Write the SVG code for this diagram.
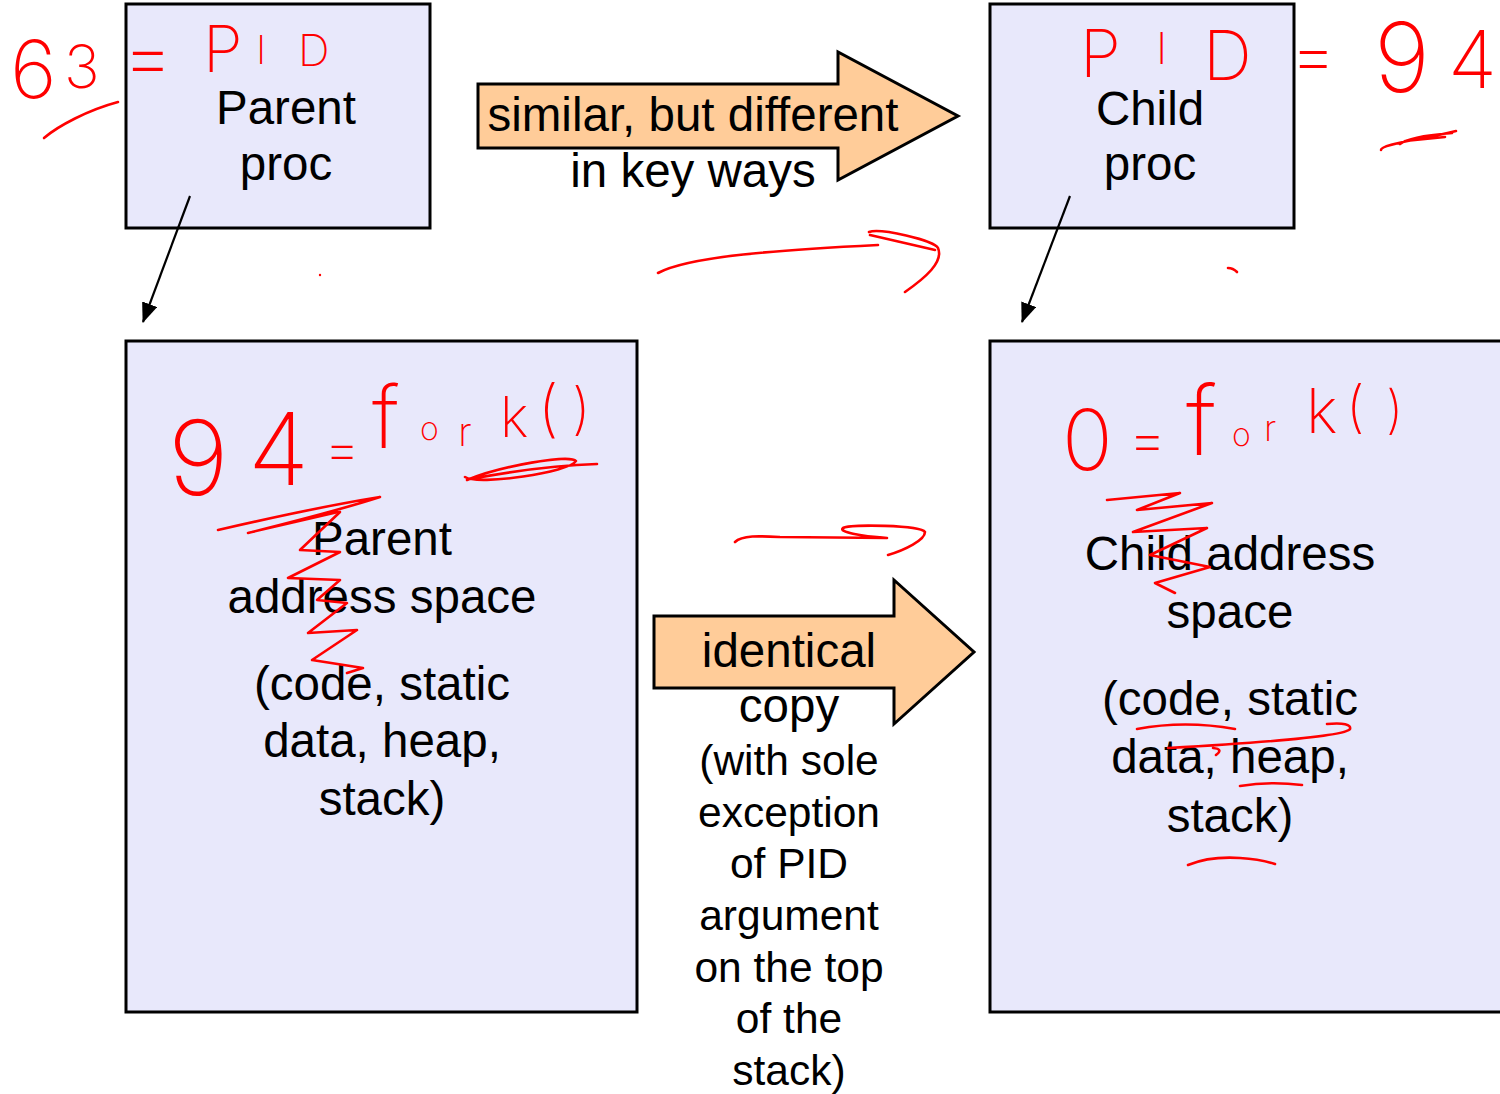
<svg xmlns="http://www.w3.org/2000/svg" width="1500" height="1094" viewBox="0 0 1500 1094">
  <style>
    .box { fill: #E8E8FB; stroke: #000; stroke-width: 3; }
    .big { fill: #FFCC99; stroke: #000; stroke-width: 3; stroke-linejoin: miter; }
    .lbl { font-family: "Liberation Sans", Arial, sans-serif; font-size: 47.5px; fill: #000; text-anchor: middle; }
    .sm { font-size: 42.5px; }
    .ink { fill: none; stroke: #FF0000; stroke-width: 2.6; stroke-linecap: round; stroke-linejoin: round; }
    .hand { font-family: Inter, "DejaVu Sans", sans-serif; font-weight: 200; fill: #FF0000; }
    .conn { stroke: #000; stroke-width: 2.2; fill: none; }
  </style>
  <defs>
    <marker id="head" viewBox="0 0 20 16" refX="19" refY="8" markerWidth="20" markerHeight="16" markerUnits="userSpaceOnUse" orient="auto">
      <path d="M0,0 L20,8 L0,16 z" fill="#000"/>
    </marker>
  </defs>

  <rect width="1500" height="1094" fill="#fff"/>

  <!-- process boxes -->
  <g id="parent-proc">
    <rect class="box" x="126" y="4" width="304" height="224"/>
    <text class="lbl" x="286" y="124">Parent</text>
    <text class="lbl" x="286" y="180">proc</text>
  </g>
  <g id="child-proc">
    <rect class="box" x="990" y="4" width="304" height="224"/>
    <text class="lbl" x="1150" y="125">Child</text>
    <text class="lbl" x="1150" y="180">proc</text>
  </g>

  <!-- address space boxes -->
  <g id="parent-space">
    <rect class="box" x="126" y="341" width="511" height="671"/>
    <text class="lbl" x="382" y="555">Parent</text>
    <text class="lbl" x="382" y="613">address space</text>
    <text class="lbl" x="382" y="700">(code, static</text>
    <text class="lbl" x="382" y="757">data, heap,</text>
    <text class="lbl" x="382" y="815">stack)</text>
  </g>
  <g id="child-space">
    <rect class="box" x="990" y="341" width="530" height="671"/>
    <text class="lbl" x="1230" y="570">Child address</text>
    <text class="lbl" x="1230" y="628">space</text>
    <text class="lbl" x="1230" y="715">(code, static</text>
    <text class="lbl" x="1230" y="773">data, heap,</text>
    <text class="lbl" x="1230" y="832">stack)</text>
  </g>

  <!-- block arrows -->
  <g id="similar-arrow">
    <path class="big" d="M478,84 L838,84 L838,52 L958,116 L838,180 L838,148 L478,148 Z"/>
    <text class="lbl" x="693" y="131">similar, but different</text>
    <text class="lbl" x="693" y="187">in key ways</text>
  </g>
  <g id="identical-arrow">
    <path class="big" d="M654,616 L894,616 L894,580 L974,652 L894,724 L894,688 L654,688 Z"/>
    <text class="lbl" x="789" y="667">identical</text>
    <text class="lbl" x="789" y="722">copy</text>
    <text class="lbl sm" x="789" y="775">(with sole</text>
    <text class="lbl sm" x="789" y="827">exception</text>
    <text class="lbl sm" x="789" y="878">of PID</text>
    <text class="lbl sm" x="789" y="930">argument</text>
    <text class="lbl sm" x="789" y="982">on the top</text>
    <text class="lbl sm" x="789" y="1033">of the</text>
    <text class="lbl sm" x="789" y="1085">stack)</text>
  </g>

  <!-- connectors -->
  <g id="connectors">
    <line class="conn" x1="190" y1="196" x2="143" y2="322" marker-end="url(#head)"/>
    <line class="conn" x1="1070" y1="196" x2="1022" y2="322" marker-end="url(#head)"/>
  </g>

  <!-- red pen notes -->
  <g id="pen-notes">
    <text class="hand">
      <tspan x="10" y="98" font-size="80">6</tspan>
      <tspan x="64" y="88" font-size="60">3</tspan>
      <tspan x="122" y="84" font-size="80">=</tspan>
      <tspan x="203" y="72" font-size="64">P</tspan>
      <tspan x="256" y="64" font-size="40">I</tspan>
      <tspan x="298" y="66" font-size="44">D</tspan>
    </text>
    <path class="ink" d="M44,138 C58,126 88,110 118,102"/>

    <text class="hand">
      <tspan x="1080" y="77" font-size="66">P</tspan>
      <tspan x="1156" y="64" font-size="44">I</tspan>
      <tspan x="1203" y="80" font-size="68">D</tspan>
      <tspan x="1290" y="80" font-size="72">=</tspan>
      <tspan x="1374" y="92" font-size="96">9</tspan>
      <tspan x="1448" y="88" font-size="80">4</tspan>
    </text>
    <path class="ink" d="M1381,150 C1381,144 1420,140 1456,131 M1400,144 C1410,136 1440,134 1452,133 M1405,141 L1445,137"/>

    <text class="hand">
      <tspan x="168" y="495" font-size="104">9</tspan>
      <tspan x="248" y="485" font-size="100">4</tspan>
      <tspan x="324" y="468" font-size="56">=</tspan>
      <tspan x="372" y="448" font-size="86">f</tspan>
      <tspan x="420" y="440" font-size="32">o</tspan>
      <tspan x="458" y="446" font-size="40">r</tspan>
      <tspan x="500" y="437" font-size="56">k</tspan>
      <tspan x="538" y="430" font-size="62">(</tspan>
      <tspan x="572" y="428" font-size="56">)</tspan>
    </text>
    <path class="ink" d="M467,480 C500,466 570,454 576,461 C570,472 478,486 465,477 M476,478 C520,470 560,465 597,464"/>
    <path class="ink" d="M218,530 C270,518 330,505 380,497 C340,510 280,525 248,533 M252,532 L338,512"/>
    <polyline class="ink" points="340,512 300,550 340,552 288,578 340,580 317,600 347,603 308,633 357,630 312,660 363,668 347,673"/>

    <text class="hand">
      <tspan x="1062" y="470" font-size="84">0</tspan>
      <tspan x="1128" y="460" font-size="60">=</tspan>
      <tspan x="1186" y="455" font-size="96">f</tspan>
      <tspan x="1232" y="446" font-size="32">o</tspan>
      <tspan x="1264" y="441" font-size="36">r</tspan>
      <tspan x="1306" y="433" font-size="62">k</tspan>
      <tspan x="1346" y="426" font-size="56">(</tspan>
      <tspan x="1386" y="428" font-size="52">)</tspan>
    </text>
    <polyline class="ink" points="1107,500 1180,493 1137,510 1212,503 1133,532 1207,528 1150,555 1210,567 1155,583 1175,593"/>
    <path class="ink" d="M1137,729 Q1185,720 1235,729"/>
    <path class="ink" d="M1327,724 Q1352,722 1350,729 Q1345,738 1168,748 M1213,748 Q1224,749 1216,755"/>
    <path class="ink" d="M1240,786 Q1270,781 1302,785"/>
    <path class="ink" d="M1188,865 Q1210,856 1240,858 Q1260,859 1275,864"/>

    <path class="ink" d="M658,273 C690,256 780,250 878,245 M869,232 C880,228 934,240 938,248 C944,262 925,278 905,292 M870,235 L935,250"/>
    <path class="ink" d="M735,542 C742,535 760,536 780,537 L887,538 C860,536 838,532 843,528 C850,524 920,525 925,532 C925,540 905,550 888,555"/>
    <circle cx="320" cy="275" r="1.2" fill="#FF0000"/>
    <path class="ink" d="M1228,268 Q1233,268 1237,272" stroke-width="2"/>
  </g>
</svg>
